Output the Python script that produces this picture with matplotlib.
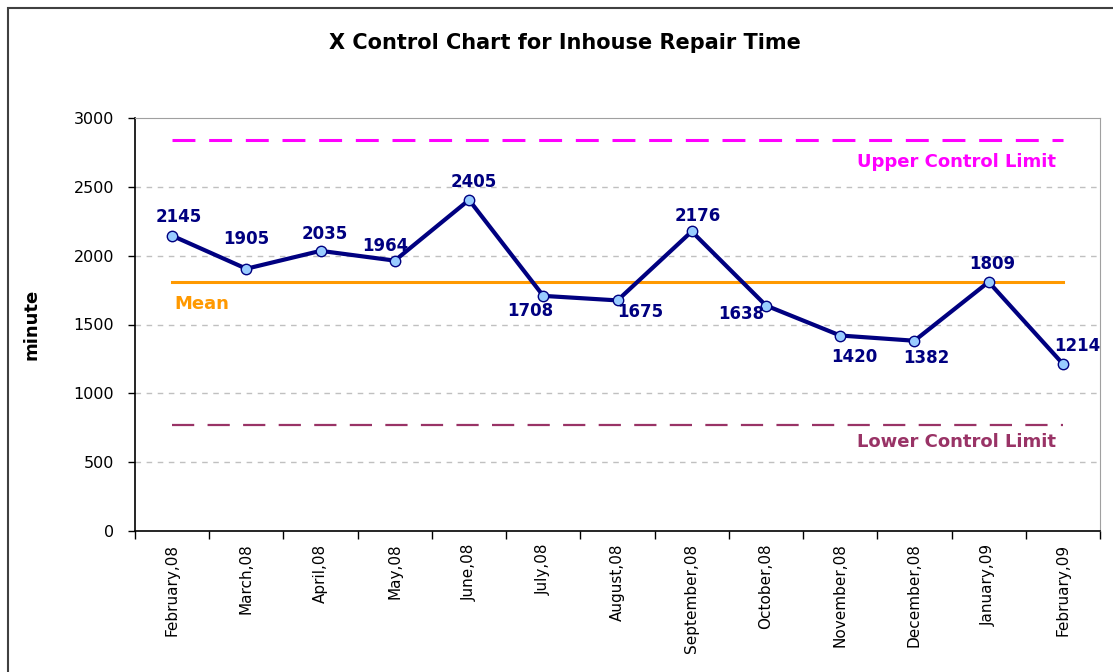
import numpy as np
import matplotlib.pyplot as plt
from matplotlib.patches import Rectangle

plt.rcParams['font.family'] = ['DejaVu Sans']

months = ['February,08', 'March,08', 'April,08', 'May,08', 'June,08', 'July,08',
          'August,08', 'September,08', 'October,08', 'November,08',
          'December,08', 'January,09', 'February,09']
repair_time = [2145, 1905, 2035, 1964, 2405, 1708, 1675, 2176, 1638, 1420, 1382, 1809, 1214]
mean_value = 1806
ucl_value = 2841
lcl_value = 771

# label offsets in pixels (dx, dy)
label_offsets = [(7, 19), (0, 30), (4, 17), (-9, 15), (5, 18), (-13, -15), (23, -12),
                 (6, 15), (-25, -8), (14, -21), (12, -17), (4, 18), (14, 18)]

x = np.arange(len(months))

fig = plt.figure(figsize=(11.13, 6.72), dpi=100)
fig.patches.append(Rectangle((8/1113, -0.05), 1.2, 1.05 - 8/672,
                             transform=fig.transFigure, fill=False,
                             edgecolor='#404040', linewidth=1.5))
ax = fig.add_axes([135/1113, 1 - 531/672, 965/1113, 413/672])

ax.set_xlim(-0.5, len(months) - 0.5)
ax.set_ylim(0, 3000)

for y in range(500, 3000, 500):
    ax.axhline(y, color='#C0C0C0', lw=1, dashes=(4, 4), zorder=0)

ax.plot([x[0], x[-1]], [ucl_value] * 2, color='#FF00FF', lw=2.2, dashes=(7.5, 4.5))
ax.plot([x[0], x[-1]], [lcl_value] * 2, color='#993366', lw=1.6, dashes=(10, 6))
ax.plot([x[0], x[-1]], [mean_value] * 2, color='#FF9900', lw=2.2)

ax.plot(x, repair_time, color='#000080', lw=3, marker='o', markersize=7.5,
        markerfacecolor='#99CCFF', markeredgecolor='#000080', markeredgewidth=1)

for i, v in enumerate(repair_time):
    dx, dy = label_offsets[i]
    ax.annotate(str(v), (x[i], v), xytext=(dx, dy), textcoords='offset pixels',
                ha='center', va='center', fontsize=12, fontweight='bold', color='#000080')

ax.annotate('Upper Control Limit', (x[-1], ucl_value), xytext=(-7, -22),
            textcoords='offset pixels', ha='right', va='center',
            fontsize=13, fontweight='bold', color='#FF00FF')
ax.annotate('Lower Control Limit', (x[-1], lcl_value), xytext=(-7, -17),
            textcoords='offset pixels', ha='right', va='center',
            fontsize=13, fontweight='bold', color='#993366')
ax.annotate('Mean', (x[0], mean_value), xytext=(2, -22),
            textcoords='offset pixels', ha='left', va='center',
            fontsize=13, fontweight='bold', color='#FF9900')

ax.set_yticks(range(0, 3001, 500))
ax.tick_params(axis='y', direction='out', length=5, width=1, labelsize=11.5, pad=10)
ax.set_xticks(x)
ax.set_xticklabels(months, rotation=90, fontsize=11)
ax.set_xticks(np.arange(-0.5, len(months), 1), minor=True)
ax.tick_params(axis='x', which='major', length=0, pad=9)
ax.tick_params(axis='x', which='minor', direction='out', length=6, width=1)

for s in ['top', 'right']:
    ax.spines[s].set_color('#A0A0A0')
ax.spines['left'].set_linewidth(1.2)
ax.spines['bottom'].set_linewidth(1.2)

ax.set_ylabel('minute', fontsize=13, fontweight='bold', labelpad=24)
fig.text(565/1113, 1 - 43/672, 'X Control Chart for Inhouse Repair Time',
         ha='center', va='center', fontsize=15, fontweight='bold')

plt.savefig('out.png', dpi=100)
